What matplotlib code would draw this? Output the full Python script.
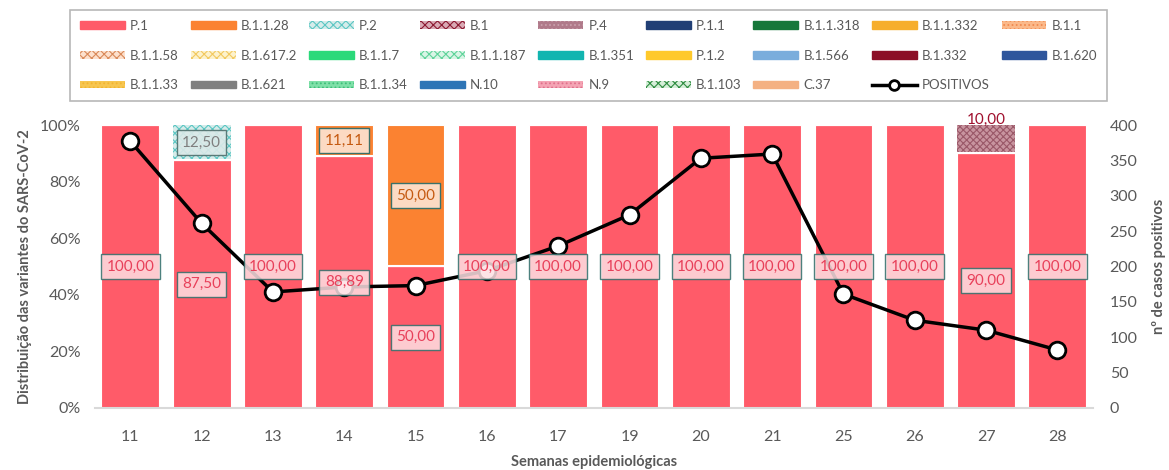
import matplotlib.pyplot as plt
import numpy as np
from matplotlib.patches import Patch
from matplotlib.lines import Line2D

plt.rcParams['font.family'] = ['Lato', 'DejaVu Sans']
plt.rcParams['hatch.linewidth'] = 0.8

weeks = ["11", "12", "13", "14", "15", "16", "17", "19", "20", "21", "25", "26", "27", "28"]

# share of each variant per week (%)
p1 = [100, 87.5, 100, 88.89, 50, 100, 100, 100, 100, 100, 100, 100, 90, 100]
p2 = [0, 12.5, 0, 0, 0, 0, 0, 0, 0, 0, 0, 0, 0, 0]
b1128 = [0, 0, 0, 11.11, 50, 0, 0, 0, 0, 0, 0, 0, 0, 0]
b1 = [0, 0, 0, 0, 0, 0, 0, 0, 0, 0, 0, 0, 10, 0]

positivos = [377, 261, 164, 171, 173, 194, 229, 273, 353, 359, 161, 124, 110, 82]

# legend entries: name, face colour, hatch, hatch colour
variants = [
    ("P.1", "#ff5b69", None, None),
    ("B.1.1.28", "#fb8231", None, None),
    ("P.2", "#d6ecea", "xxxx", "#5cc7c4"),
    ("B.1", "#d9aab5", "xxxx", "#8c1a32"),
    ("P.4", "#b07a8a", "....", "#c9a0ac"),
    ("P.1.1", "#213f75", None, None),
    ("B.1.1.318", "#17773a", None, None),
    ("B.1.1.332", "#f6ae2d", None, None),
    ("B.1.1", "#fbb98a", "....", "#f08a50"),
    ("B.1.1.58", "#fde0cc", "xxxx", "#d98a5a"),
    ("B.1.617.2", "#fdf2cc", "xxxx", "#f2c960"),
    ("B.1.1.7", "#2bd97a", None, None),
    ("B.1.1.187", "#d9f5e6", "xxxx", "#5fd39a"),
    ("B.1.351", "#12b5b0", None, None),
    ("P.1.2", "#ffc92b", None, None),
    ("B.1.566", "#7aaddc", None, None),
    ("B.1.332", "#8c0e26", None, None),
    ("B.1.620", "#2f569c", None, None),
    ("B.1.1.33", "#f7c650", "....", "#f2b530"),
    ("B.1.621", "#7f7f7f", None, None),
    ("B.1.1.34", "#7fe0a8", "....", "#3fbf7a"),
    ("N.10", "#2e75b6", None, None),
    ("N.9", "#f4a4b4", "....", "#e0708c"),
    ("B.1.103", "#d5eed8", "xxxx", "#2e8c40"),
    ("C.37", "#f4b183", None, None),
]

fig = plt.figure(figsize=(11.69, 4.70), dpi=100)
ax = fig.add_axes([0.081, 0.132, 0.854, 0.602])
ax2 = ax.twinx()

x = np.arange(len(weeks))
w = 0.81
gray = "#595959"

ax.bar(x, p1, w, color="#ff5b69", edgecolor="white", linewidth=0.8, zorder=2)
ax.bar(x, p2, w, bottom=p1, color="#d6ecea", hatch="xxxx", edgecolor="#5cc7c4",
       linewidth=0, zorder=2)
ax.bar(x, b1128, w, bottom=p1, color="#fb8231", edgecolor="white", linewidth=0.8, zorder=2)
ax.bar(x, b1, w, bottom=p1, color="#c8949f", hatch="xxxxx", edgecolor="#9a5868",
       linewidth=0, zorder=2)
# white separators between segments
for i in range(len(weeks)):
    if p1[i] < 100:
        ax.plot([x[i] - w / 2, x[i] + w / 2], [p1[i], p1[i]], color="white", lw=1.5, zorder=3)

ax.set_xlim(-0.5, len(weeks) - 0.5)
ax.set_ylim(0, 100)
ax.set_yticks(range(0, 101, 20))
ax.set_yticklabels([f"{v}%" for v in range(0, 101, 20)])
ax.set_xticks(x)
ax.set_xticklabels(weeks)
ax.tick_params(axis="y", length=0, labelsize=11.5, colors=gray, pad=10)
ax.tick_params(axis="x", length=0, labelsize=11.5, colors=gray, pad=16)
for s in ["top", "right", "left"]:
    ax.spines[s].set_visible(False)
ax.spines["bottom"].set_color("#d9d9d9")
ax.spines["bottom"].set_linewidth(1.5)
ax.set_ylabel("Distribuição das variantes do SARS-CoV-2", fontsize=10.5,
              fontweight="bold", color=gray, labelpad=6)
ax.set_xlabel("Semanas epidemiológicas", fontsize=10.5, fontweight="bold",
              color=gray, labelpad=8)

ax2.plot(x, positivos, color="black", lw=2.5, marker="o", markersize=12,
         markerfacecolor="white", markeredgecolor="black", markeredgewidth=2, zorder=4)
ax2.set_ylim(0, 400)
ax2.set_yticks(range(0, 401, 50))
ax2.tick_params(length=0, labelsize=11.5, colors=gray, pad=12)
for s in ax2.spines.values():
    s.set_visible(False)
ax2.set_ylabel("nº de casos positivos", fontsize=10.5, fontweight="bold",
               color=gray, labelpad=10)

# data labels (on top of the line)
def fmt(v):
    return f"{v:.2f}".replace(".", ",")

for i in range(len(weeks)):
    ax2.text(x[i], p1[i] / 2, fmt(p1[i]), transform=ax.transData, ha="center",
             va="center", fontsize=11, color="#e8405a", zorder=6,
             bbox=dict(boxstyle="square,pad=0.35", facecolor="#fde0e3", alpha=0.85,
                       edgecolor="#2e6e6a", linewidth=1))
    if p2[i] > 0:
        ax2.text(x[i], p1[i] + p2[i] / 2, fmt(p2[i]), transform=ax.transData,
                 ha="center", va="center", fontsize=11, color="#7f7f7f", zorder=6,
                 bbox=dict(boxstyle="square,pad=0.35", facecolor="#dbe9e8", alpha=0.9,
                           edgecolor="#4f6f6c", linewidth=1))
    if b1128[i] > 0:
        ax2.text(x[i], p1[i] + b1128[i] / 2, fmt(b1128[i]), transform=ax.transData,
                 ha="center", va="center", fontsize=11, color="#c55a11", zorder=6,
                 bbox=dict(boxstyle="square,pad=0.35", facecolor="#fde0cc", alpha=0.95,
                           edgecolor="#2e6e6a", linewidth=1))
    if b1[i] > 0:
        ax2.text(x[i], 101.8, fmt(b1[i]), transform=ax.transData, ha="center",
                 va="center", fontsize=11, color="#a0102e", zorder=6)

handles = []
for name, fc, hatch, hc in variants:
    if hatch:
        handles.append(Patch(facecolor=fc, edgecolor=hc, hatch=hatch, linewidth=0, label=name))
    else:
        handles.append(Patch(facecolor=fc, edgecolor=fc, label=name))
handles.append(Line2D([0], [0], color="black", lw=2.5, marker="o", markersize=7,
                      markerfacecolor="white", markeredgewidth=2, label="POSITIVOS"))
# empty slot to fill the 3x9 grid
handles.append(Patch(facecolor="none", edgecolor="none", label=" "))

# reference reads row by row, matplotlib fills columns first
ncol, nrow = 9, 3
ordered = [handles[r * ncol + c] for c in range(ncol) for r in range(nrow)]
leg = fig.legend(handles=ordered, labels=[h.get_label() for h in ordered],
                 loc="upper left", bbox_to_anchor=(0.06, 0.787, 0.887, 0.192),
                 mode="expand", ncol=ncol, fontsize=9.5, frameon=True, fancybox=False,
                 handlelength=3.4, handleheight=0.5, handletextpad=0.4,
                 borderpad=0.75, labelspacing=1.35, columnspacing=0.5,
                 borderaxespad=0)
leg.get_frame().set_edgecolor("#a6a6a6")
leg.get_frame().set_linewidth(1.2)
for t in leg.get_texts():
    t.set_color(gray)

fig.savefig("out.png", dpi=100)
